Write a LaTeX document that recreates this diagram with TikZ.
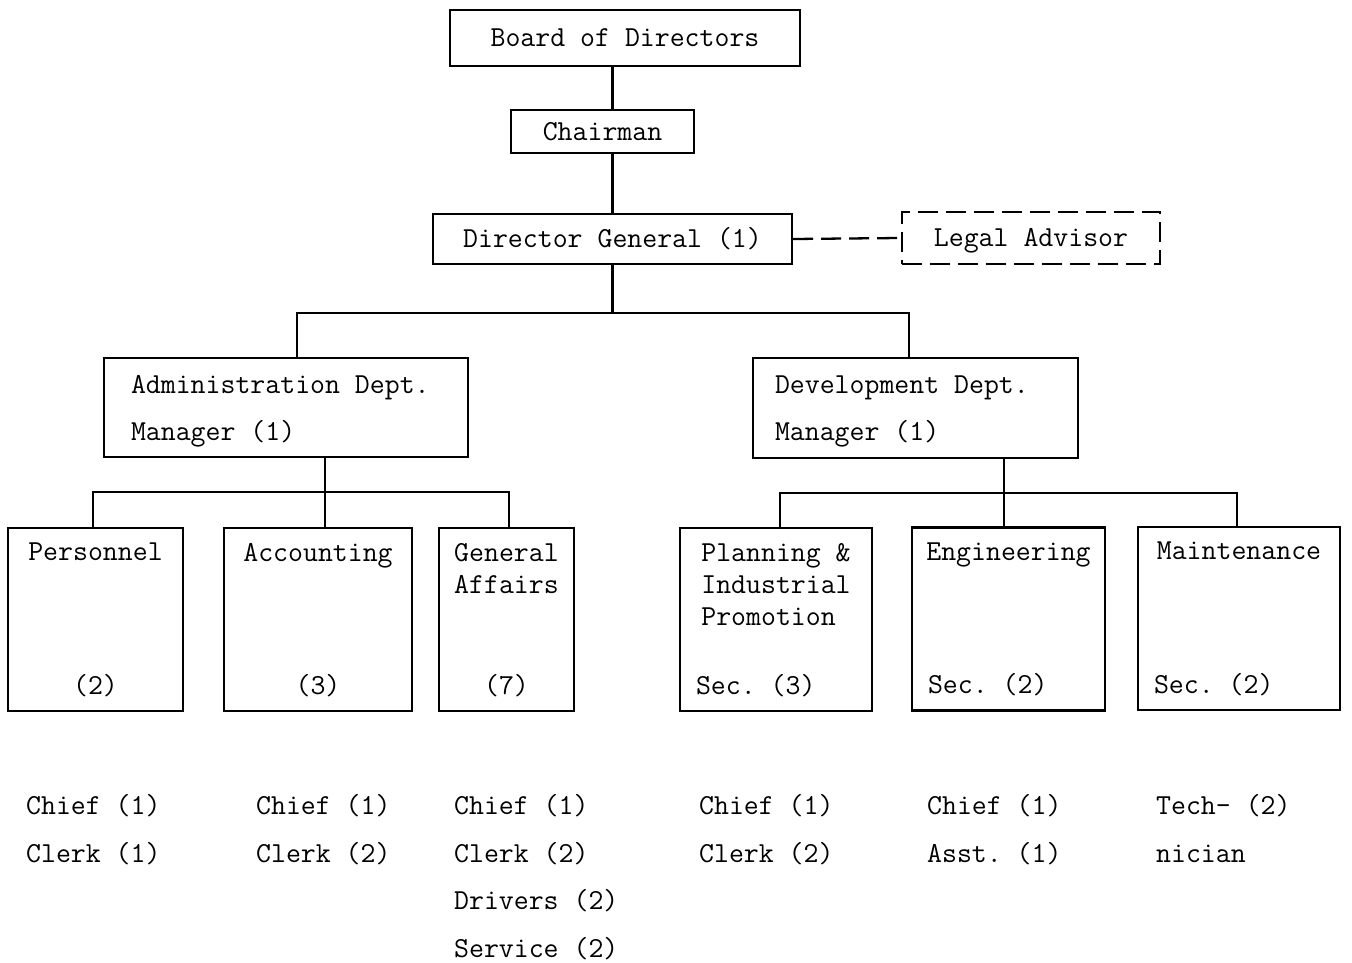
\documentclass[tikz,border=0pt]{standalone}
\usepackage{fontspec}

\begin{document}
\begin{tikzpicture}[
        line width=1.3pt,
        every node/.style = {font=\fontsize{16.5}{18.2}\selectfont\ttfamily\frenchspacing},
        orgbox/.style = {rectangle, draw, inner sep=0pt, align=center, text height=0.45cm, text depth=0.09cm},
        advisorbox/.style = {orgbox, dash pattern=on 0.4cm off 0.16cm},
        deptbox/.style = {rectangle, draw, align=flush left, inner ysep=0pt, text height=0.7cm, font=\fontsize{16.5}{27.2}\selectfont\ttfamily\frenchspacing},
        unitbox/.style = {rectangle, draw, minimum height=3.66cm, inner sep=0pt},
        unittitle/.style = {anchor=north, yshift=-0.3cm, inner sep=0pt, align=left},
        unitcount/.style = {anchor=south, yshift=0.29cm, inner sep=0pt},
        seccount/.style = {anchor=south west, xshift=0.32cm, yshift=0.29cm, inner sep=0pt},
        stafflist/.style = {anchor=north west, inner sep=0pt, align=left, font=\fontsize{16.5}{27}\selectfont\ttfamily\frenchspacing}
        ]
        \useasboundingbox (0,0) rectangle (27.04,-19.26);

        \node[orgbox, minimum width=7cm, minimum height=1.12cm] (board) at (12.5,-0.76) {Board of Directors};
        \node[orgbox, minimum width=3.66cm, minimum height=0.86cm] (chair) at (12.05,-2.63) {Chairman};
        \node[orgbox, minimum width=7.18cm, minimum height=1cm] (dg) at (12.25,-4.78) {Director General (1)};
        \node[advisorbox, minimum width=5.16cm, minimum height=1.04cm] (legal) at (20.62,-4.76) {Legal Advisor};

        \node[deptbox, text width=6.2cm, inner xsep=0.54cm, text depth=1.28cm, anchor=north] (adm) at (5.72,-7.14) {Administration Dept.\\Manager (1)};
        \node[deptbox, text width=5.62cm, inner xsep=0.44cm, text depth=1.3cm, anchor=north] (dev) at (18.31,-7.14) {Development Dept.\\Manager (1)};

        \node[unitbox, minimum width=3.5cm, label={[unittitle]north:Personnel}, label={[unitcount]south:(2)}] (pers) at (1.91,-12.39) {};
        \node[unitbox, minimum width=3.76cm, label={[unittitle]north:Accounting}, label={[unitcount]south:(3)}] (acc) at (6.36,-12.39) {};
        \node[unitbox, minimum width=2.7cm, label={[unittitle]north:General\\Affairs}, label={[unitcount]south:(7)}] (ga) at (10.13,-12.39) {};
        \node[unitbox, minimum width=3.84cm, label={[unittitle]north:Planning \&\\Industrial\\Promotion}, label={[seccount]south west:Sec. (3)}] (plan) at (15.52,-12.39) {};
        \node[unitbox, minimum width=3.86cm, label={[unittitle]north:Engineering}, label={[seccount]south west:Sec. (2)}] (eng) at (20.17,-12.38) {};
        \node[unitbox, minimum width=4.04cm, label={[unittitle]north:Maintenance}, label={[seccount]south west:Sec. (2)}] (maint) at (24.78,-12.37) {};

        \draw (board.south -| dg.north) -- (chair.north -| dg.north);
        \draw (chair.south -| dg.north) -- (dg.north);
        \draw[dash pattern=on 0.4cm off 0.16cm] (dg.east) -- (legal.west);

        \coordinate (split) at (12.25,-6.26);
        \draw (dg.south) -- (split);
        \draw ([xshift=0.22cm]adm.north) |- (split) -| ([xshift=-0.13cm]dev.north);

        \coordinate (admfork) at (6.5,-9.84);
        \draw (adm.south -| admfork) -- (admfork |- acc.north);
        \draw ([xshift=-0.05cm]pers.north) |- (admfork) -| ([xshift=0.05cm]ga.north);

        \coordinate (devfork) at (20.08,-9.86);
        \draw (dev.south -| devfork) -- (devfork |- eng.north);
        \draw ([xshift=0.08cm]plan.north) |- (devfork) -| ([xshift=-0.04cm]maint.north);

        \node[stafflist] (persstaff) at (0.5,-15.87) {Chief (1)\\Clerk (1)};
        \node[stafflist] (accstaff) at (5.1,-15.87) {Chief (1)\\Clerk (2)};
        \node[stafflist] (gastaff) at (9.06,-15.87) {Chief (1)\\Clerk (2)\\Drivers (2)\\Service (2)};
        \node[stafflist] (planstaff) at (13.96,-15.87) {Chief (1)\\Clerk (2)};
        \node[stafflist] (engstaff) at (18.52,-15.87) {Chief (1)\\Asst. (1)};
        \node[stafflist] (maintstaff) at (23.1,-15.87) {Tech- (2)\\nician};
\end{tikzpicture}
\end{document}
